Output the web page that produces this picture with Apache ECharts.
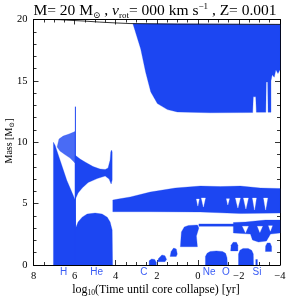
<!DOCTYPE html>
<html><head><meta charset="utf-8">
<script src="https://cdn.jsdelivr.net/npm/echarts@6/dist/echarts.min.js"></script>
<style>html,body{margin:0;padding:0;background:#fff}#c{width:300px;height:297px}</style>
</head><body><div id="c"></div>
<script>
// ---- axis ticks ----
const xTickValues = [8, 6, 4, 2, 0, -2, -4];
const yTickValues = [0, 5, 10, 15, 20];

// ---- convective zones: [log10(t until collapse), mass] ----
const coreZone = [[7.03,0],[7.03,10.0],[6.95,9.75],[6.71,8.55],[6.38,6.9],[5.97,5.3],[5.95,3.0],[5.83,3.5],[5.63,3.9],[5.39,4.15],[5.0,4.23],[4.66,4.15],[4.41,3.9],[4.27,3.5],[4.17,2.85],[4.15,0]];
const hShellZone = [[6.85,9.61],[6.76,10.26],[6.56,10.5],[6.27,10.67],[5.98,10.87],[5.98,8.31],[6.22,8.71],[6.51,9.04],[6.71,9.28]];
const hourglassZone = [[5.98,8.96],[5.73,8.63],[5.49,8.39],[5.1,8.02],[4.76,7.82],[4.51,7.78],[4.37,7.9],[4.27,8.55],[4.24,9.2],[4.2,9.36],[4.17,9.2],[4.17,6.92],[4.22,6.6],[4.32,7.0],[4.51,7.25],[4.9,7.04],[5.34,6.72],[5.63,6.27],[5.83,5.86],[5.98,5.29]];
const envelopeZone = [[3.16,19.66],[-4,19.6],[-4,15.9],[-3.9,15.6],[-3.8,15.9],[-3.72,15.3],[-3.62,15.5],[-3.56,15.0],[-3.56,12.45],[-3.42,12.45],[-3.40,14.9],[-3.33,14.9],[-3.31,12.45],[-2.85,12.45],[-2.82,13.7],[-2.7,13.7],[-2.67,12.42],[-0.6,12.4],[1.0,12.47],[1.48,12.66],[1.97,13.15],[2.29,14.1],[2.54,15.7],[2.78,17.6]];
const shellBandZone = [[4.14,5.29],[3.88,5.37],[3.29,5.54],[2.32,5.94],[1.1,6.27],[-0.12,6.43],[-1.1,6.39],[-2.07,6.43],[-3.05,6.27],[-4,6.23],[-4,4.23],[-2.07,4.19],[-0.12,4.32],[2.32,4.34],[4.14,4.34]];
const carbonShellZone = [[0.85,1.49],[0.8,2.69],[0.66,3.1],[0.46,3.22],[0.02,3.26],[-0.05,3.01],[0.07,2.36],[0.02,1.49]];
const thinStripZone = [[-0.05,3.35],[-1.8,3.35],[-1.8,3.15],[-0.05,3.15]];
const lowerBandZone = [[-1.73,3.46],[-2.32,3.5],[-2.8,3.58],[-3.29,3.66],[-4,3.66],[-4,2.61],[-3.54,2.52],[-3.34,1.95],[-2.95,1.87],[-2.66,2.04],[-2.56,2.52],[-1.73,2.61]];
const carbonCore1 = [[2.37,0],[2.37,0.35],[2.25,0.49],[2.1,0.45],[2.02,0.2],[2.02,0]];
const carbonCore2 = [[1.98,0.27],[1.9,0.55],[1.75,0.82],[1.6,0.75],[1.52,0.45],[1.6,0.27]];
const carbonCore3 = [[1.35,0.7],[1.3,1.1],[1.18,1.38],[1.05,1.3],[1.0,0.9],[1.05,0.7]];
const neonCore = [[-0.37,0],[-0.37,0.7],[-0.45,0.95],[-0.6,1.1],[-0.9,1.15],[-1.2,1.1],[-1.35,0.95],[-1.42,0.6],[-1.44,0]];
const neonShell = [[-1.6,1.15],[-1.62,1.6],[-1.72,1.85],[-1.88,1.85],[-1.95,1.6],[-1.95,1.15]];
const oxygenCore = [[-1.98,0],[-1.98,0.9],[-2.05,1.2],[-2.2,1.35],[-2.45,1.35],[-2.62,1.2],[-2.7,0.9],[-2.71,0]];
const siliconShell = [[-3.29,1.1],[-3.3,1.55],[-3.38,1.8],[-3.52,1.8],[-3.59,1.5],[-3.59,1.1]];
const siliconCore = [[-2.82,0],[-2.82,0.45],[-2.9,0.45],[-2.9,0]];

// radiative gaps inside the shells (white)
const gapZones = [
  [[0.07,5.37],[-0.07,5.37],[0.0,4.8]],
  [[-0.17,5.46],[-0.37,5.46],[-0.27,4.72]],
  [[-1.39,5.4],[-1.54,5.4],[-1.46,4.89]],
  [[-1.83,5.45],[-2.07,5.45],[-1.95,4.64]],
  [[-2.22,5.45],[-2.46,5.45],[-2.34,4.56]],
  [[-2.66,5.45],[-2.85,5.45],[-2.76,4.48]],
  [[-3.2,5.45],[-3.4,5.45],[-3.3,4.48]],
  [[-2.17,3.15],[-2.46,3.15],[-2.32,2.62]],
  [[-2.9,3.15],[-3.15,3.15],[-3.02,2.65]],
  [[-3.44,3.2],[-3.63,3.2],[-3.53,2.75]]
];

// total stellar mass (surface)
const surfaceMass = [[7.1,20.0],[6.7,19.98],[6.4,19.95],[5.5,19.87],[4.8,19.79],[4.0,19.72],[3.3,19.67],[1.0,19.63],[-4,19.6]];
// thin convective spike at the end of H burning
const spikeLine = [[5.96,0],[5.96,12.9]];

// burning stage labels
const stageNames = ['H','He','C','Ne','O','Si'];
const stageX = [6.54, 4.93, 2.63, -0.55, -1.37, -2.88];

const BLUE = '#1c46f2';
const solidZones = [coreZone, hourglassZone, envelopeZone, shellBandZone, carbonShellZone, thinStripZone, lowerBandZone,
  carbonCore1, carbonCore2, carbonCore3, neonCore, neonShell, oxygenCore, siliconShell, siliconCore];

function polySeries(list, color, opacity) {
  return {
    type: 'custom', xAxisIndex: 0, yAxisIndex: 0, silent: true, animation: false, clip: true,
    data: list.map(p => [p[0][0], p[0][1]]),
    renderItem: (params, api) => {
      const poly = list[params.dataIndex];
      return {type: 'polygon', shape: {points: poly.map(pt => api.coord(pt))},
        style: {fill: color, opacity: opacity, stroke: color, lineWidth: 0.3}};
    }
  };
}

const chart = echarts.init(document.getElementById('c'), null, {renderer: 'canvas'});
const serif = 'Liberation Serif, DejaVu Serif, serif';
const axisCommon = {
  type: 'value', splitLine: {show: false},
  axisLine: {show: true, onZero: false, lineStyle: {color: '#000', width: 1}},
  axisTick: {show: true, inside: true, length: 5, lineStyle: {color: '#000', width: 0.8}},
  minorTick: {show: true, length: 3, lineStyle: {color: '#000', width: 0.8}}
};
const fmtMinus = v => String(v).replace('-', '\u2212');

chart.setOption({
  animation: false,
  grid: {left: 33.5, right: 20, top: 19.5, bottom: 32, containLabel: false},
  xAxis: [
    Object.assign({}, axisCommon, {min: -4, max: 8, interval: 2, inverse: true, position: 'bottom',
      minorTick: Object.assign({}, axisCommon.minorTick, {splitNumber: 4}),
      axisLabel: {color: '#000', fontFamily: serif, fontSize: 10.5, margin: 6,
        formatter: v => xTickValues.includes(v) ? fmtMinus(v) : ''}}),
    Object.assign({}, axisCommon, {min: -4, max: 8, interval: 2, inverse: true, position: 'top',
      minorTick: Object.assign({}, axisCommon.minorTick, {splitNumber: 4}),
      axisLabel: {show: false}})
  ],
  yAxis: [
    Object.assign({}, axisCommon, {min: 0, max: 20, interval: 5, position: 'left',
      minorTick: Object.assign({}, axisCommon.minorTick, {splitNumber: 5}),
      axisLabel: {color: '#000', fontFamily: serif, fontSize: 10.5, margin: 6,
        formatter: v => yTickValues.includes(v) ? String(v) : ''}}),
    Object.assign({}, axisCommon, {min: 0, max: 20, interval: 5, position: 'right',
      minorTick: Object.assign({}, axisCommon.minorTick, {splitNumber: 5}),
      axisLabel: {show: false}})
  ],
  series: [
    polySeries(solidZones, BLUE, 1),
    polySeries([hShellZone], BLUE, 0.8),
    polySeries(gapZones, '#ffffff', 1),
    {type: 'line', data: spikeLine, symbol: 'none', silent: true, lineStyle: {color: BLUE, width: 1}},
    {type: 'line', data: surfaceMass, symbol: 'none', silent: true, lineStyle: {color: '#000', width: 0.8}},
    {
      type: 'custom', silent: true, clip: false,
      data: stageX.map((x, i) => [x, 0, i]),
      renderItem: (params, api) => {
        const p = api.coord([api.value(0), 0]);
        return {type: 'text', x: p[0], y: p[1] + 7,
          style: {text: stageNames[params.dataIndex], fill: '#3a5cf5', font: '10px Liberation Sans, sans-serif', align: 'center', verticalAlign: 'middle'}};
      }
    }
  ],
  graphic: [
    {type: 'text', x: 155, y: 11, style: {
      text: '{n|M= 20 M}{s|\u2299}{n| , }{i|v}{s|rot}{n|= 000 km s}{p|\u22121}{n| , Z= 0.001}',
      align: 'center', verticalAlign: 'middle', fill: '#000',
      rich: {
        n: {fontFamily: serif, fontSize: 15.5, lineHeight: 18, verticalAlign: 'middle', fill: '#000'},
        i: {fontFamily: serif, fontSize: 15.5, fontStyle: 'italic', lineHeight: 18, verticalAlign: 'middle', fill: '#000'},
        s: {fontFamily: serif, fontSize: 9, lineHeight: 9, verticalAlign: 'bottom', fill: '#000'},
        p: {fontFamily: serif, fontSize: 9, lineHeight: 9, verticalAlign: 'top', fill: '#000'}
      }}},
    {type: 'text', x: 156, y: 290, style: {
      text: '{n|log}{s|10}{n|(Time until core collapse) [yr]}',
      align: 'center', verticalAlign: 'middle', fill: '#000',
      rich: {
        n: {fontFamily: serif, fontSize: 12, lineHeight: 14, verticalAlign: 'middle', fill: '#000'},
        s: {fontFamily: serif, fontSize: 7.5, lineHeight: 7, verticalAlign: 'bottom', fill: '#000'}
      }}},
    {type: 'text', x: 9, y: 141, rotation: Math.PI / 2, style: {
      text: '{n|Mass [M}{s|\u2299}{n|]}',
      align: 'center', verticalAlign: 'middle', fill: '#000',
      rich: {
        n: {fontFamily: serif, fontSize: 10, lineHeight: 13, verticalAlign: 'middle', fill: '#000'},
        s: {fontFamily: serif, fontSize: 7, lineHeight: 7, verticalAlign: 'bottom', fill: '#000'}
      }}}
  ]
});
</script></body></html>
